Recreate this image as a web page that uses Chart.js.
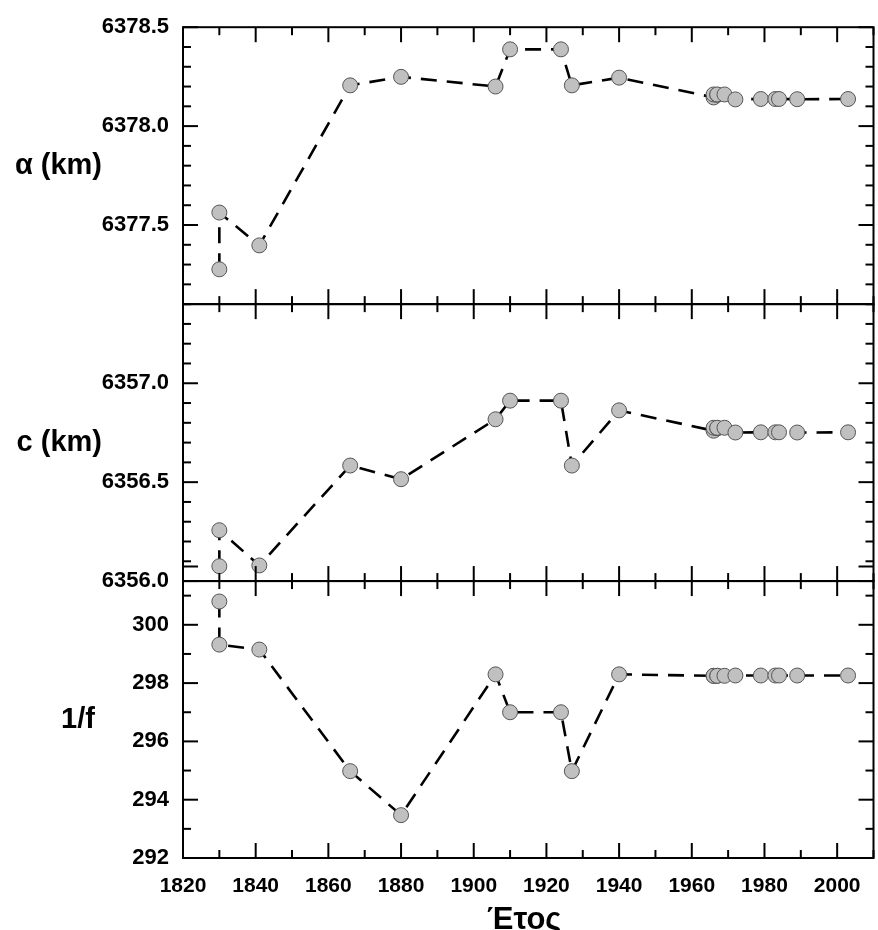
<!DOCTYPE html>
<html>
<head>
<meta charset="utf-8">
<script src="https://cdn.jsdelivr.net/npm/chart.js@4.4.0/dist/chart.umd.min.js"></script>
<style>
  html, body { margin: 0; padding: 0; background: #fff; overflow: hidden; }
  #wrap { width: 882px; height: 930px; }
</style>
</head>
<body>
<div id="wrap"><canvas id="geo" width="882" height="930"></canvas></div>
<script>
// ellipsoid parameters by year
var years = [1830, 1830, 1841, 1866, 1880, 1906, 1910, 1924, 1927, 1940,
             1966, 1966, 1967, 1967, 1969, 1972, 1979, 1983, 1984, 1989, 2003];
var semiMajor = [6377.276, 6377.563, 6377.397, 6378.206, 6378.249, 6378.200, 6378.388, 6378.388, 6378.206, 6378.245,
                 6378.145, 6378.160, 6378.158, 6378.160, 6378.160, 6378.135, 6378.137, 6378.137, 6378.137, 6378.136, 6378.137];
var semiMinor = [6356.075, 6356.257, 6356.079, 6356.584, 6356.515, 6356.818, 6356.912, 6356.912, 6356.584, 6356.863,
                 6356.760, 6356.775, 6356.772, 6356.775, 6356.775, 6356.751, 6356.752, 6356.752, 6356.752, 6356.751, 6356.752];
var invFlat = [300.80, 299.32, 299.15, 294.98, 293.47, 298.30, 297.00, 297.00, 294.98, 298.30,
               298.25, 298.25, 298.25, 298.25, 298.25, 298.26, 298.26, 298.26, 298.26, 298.26, 298.26];

var yearRange = [1820, 2010];
var aRange = [6377.1, 6378.5];
var cRange = [6356.0, 6357.4];
var fRange = [292, 301.5];
var titles = ['α (km)', 'c (km)', '1/f'];
var xTitle = 'Έτος';

Chart.defaults.font.family = '"Liberation Sans", Arial, sans-serif';
Chart.defaults.color = '#000';

var panels = [
  { id: 'yA', title: titles[0], major: 0.5, minor: 0.1, tx: 102, align: 'right' },
  { id: 'yC', title: titles[1], major: 0.5, minor: 0.1, tx: 102, align: 'right' },
  { id: 'yF', title: titles[2], major: 2, minor: 1, tx: 78, align: 'center' }
];

function pts(vals) {
  return years.map(function (y, i) { return { x: y, y: vals[i] }; });
}

function series(vals, axis) {
  return {
    data: pts(vals),
    yAxisID: axis,
    borderColor: '#000',
    borderWidth: 2.6,
    borderDash: [16, 10],
    pointRadius: 7.5,
    pointHoverRadius: 7.5,
    pointBackgroundColor: '#c0c0c0',
    pointBorderColor: '#555',
    pointBorderWidth: 1,
    tension: 0,
    fill: false
  };
}

function yAxis(range, step, digits, weight) {
  return {
    type: 'linear',
    position: 'left',
    stack: 'panels',
    stackWeight: 1,
    weight: weight,
    min: range[0],
    max: range[1],
    grid: { display: false, drawTicks: false },
    border: { display: false },
    ticks: {
      stepSize: step,
      includeBounds: false,
      padding: 14,
      font: { size: 22, weight: 'bold' },
      callback: function (v) { return Number(v).toFixed(digits); }
    },
    afterFit: function (s) { s.width = 183; }
  };
}

function line(ctx, x1, y1, x2, y2) {
  ctx.beginPath();
  ctx.moveTo(x1, y1);
  ctx.lineTo(x2, y2);
  ctx.stroke();
}

var frameTicks = {
  id: 'frameTicks',
  afterDraw: function (chart) {
    var ctx = chart.ctx, area = chart.chartArea, xs = chart.scales.x;
    ctx.save();
    ctx.strokeStyle = '#000';
    ctx.lineWidth = 2;
    panels.forEach(function (p) {
      var s = chart.scales[p.id];
      ctx.strokeRect(area.left, s.top, area.right - area.left, s.bottom - s.top);
      var n = Math.round((s.max - s.min) / p.minor);
      for (var i = 0; i <= n; i++) {
        var v = s.min + i * p.minor;
        var r = v / p.major;
        var len = Math.abs(r - Math.round(r)) < 1e-6 ? 15 : 8;
        var py = s.getPixelForValue(v);
        line(ctx, area.left, py, area.left + len, py);
        line(ctx, area.right, py, area.right - len, py);
      }
      for (var yr = yearRange[0]; yr <= yearRange[1]; yr += 10) {
        var px = xs.getPixelForValue(yr);
        var l = yr % 20 === 0 ? 15 : 8;
        line(ctx, px, s.top, px, s.top + l);
        line(ctx, px, s.bottom, px, s.bottom - l);
      }
      ctx.fillStyle = '#000';
      ctx.font = 'bold 29px "Liberation Sans", Arial, sans-serif';
      ctx.textAlign = p.align;
      ctx.textBaseline = 'middle';
      ctx.fillText(p.title, p.tx, (s.top + s.bottom) / 2);
    });
    ctx.font = 'bold 31px "Liberation Sans", Arial, sans-serif';
    ctx.textAlign = 'center';
    ctx.textBaseline = 'alphabetic';
    ctx.fillText(xTitle, (area.left + area.right) / 2 - 4, 929);
    ctx.restore();
  }
};

new Chart(document.getElementById('geo'), {
  type: 'line',
  data: {
    datasets: [
      series(semiMajor, 'yA'),
      series(semiMinor, 'yC'),
      series(invFlat, 'yF')
    ]
  },
  options: {
    responsive: false,
    animation: false,
    layout: { padding: { top: 23, right: 1, left: 0, bottom: 0 } },
    plugins: { legend: { display: false }, tooltip: { enabled: false } },
    scales: {
      x: {
        type: 'linear',
        min: yearRange[0],
        max: yearRange[1],
        grid: { display: false, drawTicks: false },
        border: { display: false },
        ticks: {
          stepSize: 20,
          includeBounds: false,
          padding: 16,
          font: { size: 21, weight: 'bold' },
          callback: function (v) { return String(v); }
        },
        afterFit: function (s) { s.height = 72; }
      },
      yF: yAxis(fRange, 2, 0, 1),
      yC: yAxis(cRange, 0.5, 1, 2),
      yA: yAxis(aRange, 0.5, 1, 3)
    }
  },
  plugins: [frameTicks]
});
</script>
</body>
</html>
